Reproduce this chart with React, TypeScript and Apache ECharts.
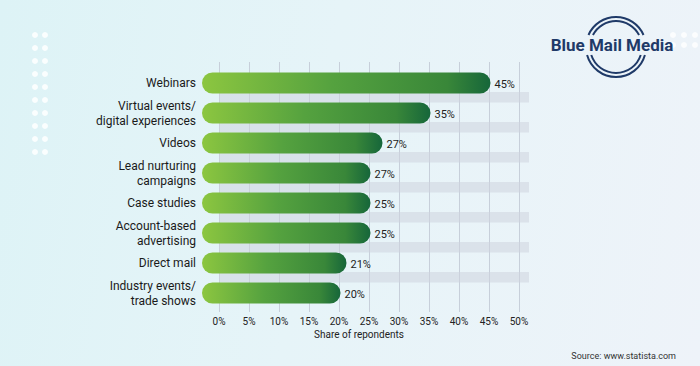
import React, { useEffect, useRef } from "react";
import * as echarts from "echarts";

const categories = [
  "Webinars",
  "Virtual events/\ndigital experiences",
  "Videos",
  "Lead nurturing\ncampaigns",
  "Case studies",
  "Account-based\nadvertising",
  "Direct mail",
  "Industry events/\ntrade shows",
];
// bar lengths as drawn in the picture
const barValues = [45, 35, 27, 25, 25, 25, 21, 20];
// value labels as printed
const labelValues = [45, 35, 27, 27, 25, 25, 21, 20];
const xMin = 0;
const xMax = 50;
const xInterval = 5;
const axisName = "Share of repondents";
const sourceText = "Source: www.statista.com";
const logoText = "Blue Mail Media";

export default function App() {
  const ref = useRef<HTMLDivElement>(null);
  useEffect(() => {
    if (!ref.current) return;
    const chart = echarts.init(ref.current, undefined, { renderer: "svg" });
    const n = categories.length;
    const font = "Roboto";
    const navy = "#1f3a68";

    const dots: any[] = [];
    for (let r = 0; r < 10; r++) {
      for (let c = 0; c < 2; c++) {
        dots.push({
          type: "circle",
          shape: { cx: 35 + c * 10, cy: 35 + r * 13, r: 3 },
          style: { fill: "rgba(255,255,255,0.85)" },
          silent: true,
        });
      }
    }
    for (let r = 0; r < 2; r++) {
      for (let c = 0; c < 3; c++) {
        dots.push({
          type: "circle",
          shape: { cx: 673 + c * 11, cy: 35 + r * 10, r: 3 },
          style: { fill: "rgba(255,255,255,0.8)" },
          silent: true,
        });
      }
    }

    const cx = 616;
    const cy = 47;
    const arcs: any[] = [];
    [30, 26].forEach((rr) => {
      const aTop = Math.asin(12 / rr);
      const aBot = Math.asin(8 / rr);
      arcs.push({
        type: "arc",
        shape: { cx, cy, r: rr, startAngle: Math.PI + aTop, endAngle: 2 * Math.PI - aTop, clockwise: true },
        style: { stroke: navy, lineWidth: 2, fill: "none" },
        silent: true,
      });
      arcs.push({
        type: "arc",
        shape: { cx, cy, r: rr, startAngle: aBot, endAngle: Math.PI - aBot, clockwise: true },
        style: { stroke: navy, lineWidth: 2, fill: "none" },
        silent: true,
      });
    });

    const gradient = () =>
      new echarts.graphic.LinearGradient(0, 0, 1, 0, [
        { offset: 0, color: "#8cc640" },
        { offset: 0.45, color: "#55a23f" },
        { offset: 0.85, color: "#398739" },
        { offset: 1, color: "#16663a" },
      ]);

    chart.setOption({
      animation: false,
      backgroundColor: "transparent",
      textStyle: { fontFamily: font },
      grid: [
        { left: 219, width: 300, top: 62, height: 250 },
        { left: 219, width: 300, top: 68, height: 240 },
      ],
      xAxis: [
        {
          gridIndex: 0,
          type: "value",
          min: xMin,
          max: xMax,
          interval: xInterval,
          axisLine: { show: false },
          axisTick: { show: false },
          axisLabel: { formatter: "{value}%", fontSize: 10, color: "#222", margin: 4, fontFamily: font },
          splitLine: { show: true, lineStyle: { color: "#c7cfda", width: 1 } },
        },
        { gridIndex: 1, type: "value", min: xMin, max: xMax, show: false },
      ],
      yAxis: [
        { gridIndex: 0, type: "value", show: false, min: 0, max: 1 },
        {
          gridIndex: 1,
          type: "category",
          inverse: true,
          data: categories,
          axisLine: { show: false },
          axisTick: { show: false },
          splitLine: { show: false },
          axisLabel: { fontSize: 12, color: "#1a1a1a", margin: 23, lineHeight: 15, fontFamily: font },
        },
      ],
      series: [
        {
          type: "custom",
          xAxisIndex: 1,
          yAxisIndex: 1,
          encode: { x: 0, y: 1 },
          data: barValues.map((v, i) => [v, i, labelValues[i]]),
          renderItem: (params: any, api: any) => {
            const idx = api.value(1);
            const v = api.value(0);
            const lab = api.value(2);
            const end = api.coord([v, idx]);
            const zero = api.coord([0, idx]);
            const axisEnd = api.coord([xMax, idx]);
            const band = api.size([0, 1])[1];
            const h = 21;
            const x0 = zero[0] - 17;
            const xe = end[0] + 1.5;
            const children: any[] = [];
            if (idx < n - 1) {
              children.push({
                type: "rect",
                shape: { x: zero[0], y: end[1] + 9, width: axisEnd[0] + 10 - zero[0], height: band - h / 2 - 9 },
                style: { fill: "rgba(205,212,222,0.55)" },
              });
            }
            children.push({
              type: "rect",
              shape: { x: x0, y: end[1] - h / 2, width: xe - x0, height: h, r: h / 2 },
              style: { fill: gradient() },
            });
            children.push({
              type: "text",
              style: {
                x: xe + 4,
                y: end[1] + 1.5,
                text: lab + "%",
                fill: "#222",
                font: `11px ${font}`,
                verticalAlign: "middle",
                align: "left",
              },
            });
            return { type: "group", children };
          },
        },
      ],
      graphic: [
        ...dots,
        ...arcs,
        {
          type: "text",
          style: {
            x: 612,
            y: 45,
            text: logoText,
            fill: navy,
            font: `bold 17px ${font}`,
            align: "center",
            verticalAlign: "middle",
          },
          silent: true,
        },
        {
          type: "text",
          style: {
            x: 359,
            y: 334,
            text: axisName,
            fill: "#222",
            font: `10px ${font}`,
            align: "center",
            verticalAlign: "middle",
          },
          silent: true,
        },
        {
          type: "text",
          style: {
            x: 676,
            y: 356,
            text: sourceText,
            fill: "#333",
            font: `9px ${font}`,
            align: "right",
            verticalAlign: "middle",
          },
          silent: true,
        },
      ],
    });
    return () => chart.dispose();
  }, []);
  return (
    <div
      ref={ref}
      style={{
        position: "fixed",
        left: 0,
        top: 0,
        width: 700,
        height: 366,
        background: "linear-gradient(100deg, #ddf3f6 0%, #e6f4f8 45%, #eef3f9 100%)",
      }}
    />
  );
}
